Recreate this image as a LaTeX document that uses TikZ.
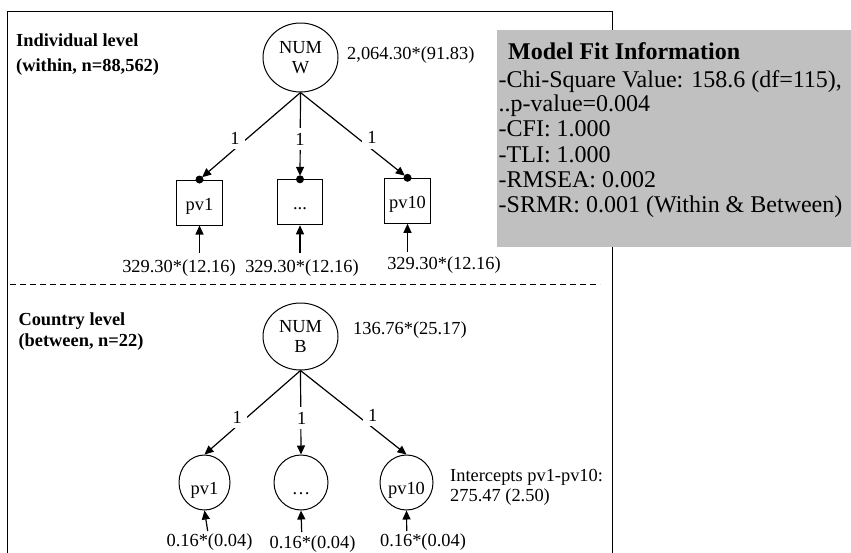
\documentclass[tikz,border=0pt]{standalone}
\usepackage{fontspec}
\setmainfont{Liberation Serif}
\usetikzlibrary{shapes.geometric,arrows.meta}
\definecolor{fitgray}{RGB}{192,192,192}
\begin{document}
\begin{tikzpicture}[x=1pt,y=-1pt,
  txt/.style={font=\fontsize{18.4}{20}\selectfont, inner sep=0pt},
  boldtxt/.style={font=\fontsize{18.4}{20}\selectfont\bfseries, inner sep=0pt},
  fittxt/.style={font=\fontsize{24}{25}\selectfont, inner sep=0pt, anchor=base west},
  latent/.style={ellipse, draw, line width=1pt, minimum width=75pt, minimum height=69pt, inner sep=0pt, align=center, font=\fontsize{18.4}{20}\selectfont},
  obsbox/.style={rectangle, draw, line width=1pt, minimum width=45.5pt, minimum height=45pt, inner sep=0pt, text height=15pt, text depth=0pt, font=\fontsize{18.4}{20}\selectfont},
  obscirc/.style={ellipse, draw, line width=1pt, minimum width=52pt, minimum height=55pt, inner sep=0pt, text height=24pt, text depth=0pt, font=\fontsize{18.4}{20}\selectfont},
  load/.style={line width=1.2pt, -{Triangle[length=9pt,width=8pt]}},
  onelab/.style={font=\fontsize{18.4}{20}\selectfont, fill=white, inner xsep=5pt, inner ysep=5pt},
]
\useasboundingbox (0,0) rectangle (851,552);

% frame
\draw[line width=0.9pt] (7,560) -- (7,11) -- (612,11) -- (612,560);
\draw[line width=0.9pt, dash pattern=on 6pt off 4pt] (10,284) -- (600,284);

% model fit box
\fill[fitgray] (497,30) rectangle (851,247);
\node[fittxt, font=\fontsize{24}{25}\selectfont\bfseries] (fittitle) at (508,59.3) {Model Fit Information};
\node[fittxt] (fit1) at (498.5,87.3) {-Chi-Square Value: 158.6 (df=115),};
\node[fittxt] (fit2) at (498.5,111.7) {..p-value=0.004};
\node[fittxt] (fit3) at (498.5,136.7) {-CFI: 1.000};
\node[fittxt] (fit4) at (498.5,162) {-TLI: 1.000};
\node[fittxt] (fit5) at (498.5,187.3) {-RMSEA: 0.002};
\node[fittxt] (fit6) at (498.5,212.7) {-SRMR: 0.001 (Within \& Between)};

% level labels
\node[boldtxt, anchor=base west] (ind1) at (16,46.7) {Individual level};
\node[boldtxt, anchor=base west] (ind2) at (16,71.7) {(within, n=88,562)};
\node[boldtxt, anchor=base west] (cty1) at (18.3,325) {Country level};
\node[boldtxt, anchor=base west] (cty2) at (18.3,346.7) {(between, n=22)};

% ---------- within level ----------
\node[latent] (numw) at (300.5,57.5) {NUM\\W};
\node[txt, anchor=base west] (varw) at (347,59) {2,064.30*(91.83)};

\node[obsbox] (pv1) at (199.5,202.5) {pv1};
\node[obsbox] (pvd) at (300,202.3) {...};
\node[obsbox] (pv10) at (407.5,200.8) {pv10};

\draw[load, shorten >=3.5pt] (numw.south) -- (pv1.north);
\draw[load, shorten >=3.5pt] (numw.south) -- (pvd.north);
\draw[load, shorten >=3.5pt] (numw.south) -- (pv10.north);
\fill (pv1.north) circle (4pt);
\fill (pvd.north) circle (4pt);
\fill (pv10.north) circle (4pt);

\node[onelab] (l1w) at (235,138) {1};
\node[onelab] (l2w) at (300,139) {1};
\node[onelab] (l3w) at (372,137.5) {1};

\node[txt, anchor=base] (r1w) at (179,272.7) {329.30*(12.16)};
\node[txt, anchor=base] (r2w) at (302,272.7) {329.30*(12.16)};
\node[txt, anchor=base] (r3w) at (444,269.3) {329.30*(12.16)};
\coordinate (e1w) at (199.5,253);
\coordinate (e2w) at (300,253);
\coordinate (e3w) at (407.5,252);
\draw[load] (e1w) -- (pv1.south);
\draw[load] (e2w) -- (pvd.south);
\draw[load] (e3w) -- (pv10.south);

% ---------- between level ----------
\node[latent, minimum height=67pt] (numb) at (300.5,336.5) {NUM\\B};
\node[txt, anchor=base west] (varb) at (353,334) {136.76*(25.17)};

\node[obscirc, minimum width=51pt] (pv1b) at (204.5,482.5) {pv1};
\node[obscirc, minimum width=54pt] (pvdb) at (301,482.5) {\ldots};
\node[obscirc, minimum width=53pt] (pv10b) at (406.5,482.5) {pv10};

\draw[load] (numb.south) -- (pv1b.north);
\draw[load] (numb.south) -- (pvdb.north);
\draw[load] (numb.south) -- (pv10b.north);

\node[onelab] (l1b) at (237.3,417) {1};
\node[onelab] (l2b) at (301.7,418) {1};
\node[onelab] (l3b) at (372.7,415) {1};

\node[txt, anchor=base west] (int1) at (450,481.7) {Intercepts pv1-pv10:};
\node[txt, anchor=base west] (int2) at (450,501.7) {275.47 (2.50)};

\node[txt, anchor=base] (r1b) at (209.5,546.5) {0.16*(0.04)};
\node[txt, anchor=base] (r2b) at (312.5,548) {0.16*(0.04)};
\node[txt, anchor=base] (r3b) at (423,546) {0.16*(0.04)};
\coordinate (e1b) at (207.7,531);
\coordinate (e2b) at (301.7,532);
\coordinate (e3b) at (406.7,531);
\draw[load] (e1b) -- (pv1b.south);
\draw[load] (e2b) -- (pvdb.south);
\draw[load] (e3b) -- (pv10b.south);
\end{tikzpicture}
\end{document}
